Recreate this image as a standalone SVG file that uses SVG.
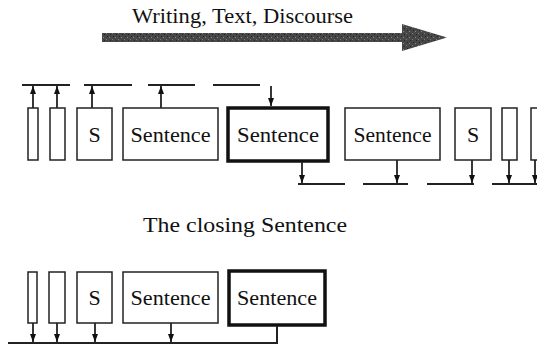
<svg xmlns="http://www.w3.org/2000/svg" width="537" height="348" viewBox="0 0 537 348">
<style>
.box{fill:#fff;stroke:#222;stroke-width:1.5}
.bold{fill:#fff;stroke:#111;stroke-width:3.5}
.ln{stroke:#222;stroke-width:2;fill:none}
.cn{stroke:#222;stroke-width:1.8;fill:none;marker-end:url(#ah)}
.lbl{font-family:"Liberation Serif","Times New Roman",serif;font-size:22px;text-anchor:middle;fill:#111}
.ttl{font-family:"Liberation Serif","Times New Roman",serif;font-size:21px;fill:#111}
</style>
<defs>
<marker id="ah" viewBox="0 0 8 6" refX="8" refY="3" markerWidth="8" markerHeight="6" orient="auto" markerUnits="userSpaceOnUse">
<path d="M0,0 L8,3 L0,6 z" fill="#111"/>
</marker>
<pattern id="tex" width="6" height="6" patternUnits="userSpaceOnUse">
<rect width="6" height="6" fill="#474747"/>
<rect x="1" y="1" width="1" height="1" fill="#8a8a8a"/>
<rect x="4" y="3" width="1" height="1" fill="#7a7a7a"/>
<rect x="2" y="4" width="1" height="1" fill="#222"/>
<rect x="5" y="0" width="1" height="1" fill="#222"/>
</pattern>
</defs>

<g id="title">
<text class="ttl" x="132" y="23" textLength="221" lengthAdjust="spacingAndGlyphs">Writing, Text, Discourse</text>
<polygon points="102,33 402,33 402,24 447,37.5 402,51 402,42 102,42" fill="url(#tex)"/>
</g>

<g id="top-row">
<g id="t1"><rect class="box" x="28" y="108" width="10" height="52"/></g>
<g id="t2"><rect class="box" x="50" y="108" width="15" height="52"/></g>
<g id="t3"><rect class="box" x="77" y="108" width="35" height="52"/><text class="lbl" x="94.5" y="142">S</text></g>
<g id="t4"><rect class="box" x="123" y="108" width="95" height="52"/><text class="lbl" x="170.5" y="142" textLength="80" lengthAdjust="spacingAndGlyphs">Sentence</text></g>
<g id="t5"><rect class="bold" x="228" y="108" width="100" height="53"/><text class="lbl" x="278" y="142" textLength="82" lengthAdjust="spacingAndGlyphs">Sentence</text></g>
<g id="t6"><rect class="box" x="345" y="108" width="95" height="52"/><text class="lbl" x="392.5" y="142" textLength="78" lengthAdjust="spacingAndGlyphs">Sentence</text></g>
<g id="t7"><rect class="box" x="455" y="108" width="36" height="52"/><text class="lbl" x="473" y="142">S</text></g>
<g id="t8"><rect class="box" x="502" y="108" width="15" height="52"/></g>
<g id="t9"><rect class="box" x="531" y="108" width="15" height="52"/></g>
</g>

<g id="closing-label">
<text class="ttl" x="143" y="232" textLength="204" lengthAdjust="spacingAndGlyphs">The closing Sentence</text>
</g>

<g id="bottom-row">
<g id="b1"><rect class="box" x="28" y="272" width="9" height="51"/></g>
<g id="b2"><rect class="box" x="49" y="272" width="16" height="51"/></g>
<g id="b3"><rect class="box" x="77" y="272" width="35" height="51"/><text class="lbl" x="94.5" y="305">S</text></g>
<g id="b4"><rect class="box" x="123" y="272" width="95" height="51"/><text class="lbl" x="170.5" y="305" textLength="80" lengthAdjust="spacingAndGlyphs">Sentence</text></g>
<g id="b5"><rect class="bold" x="229" y="271" width="96" height="54"/><text class="lbl" x="277" y="305" textLength="80" lengthAdjust="spacingAndGlyphs">Sentence</text></g>
</g>

<g id="connectors">
<line class="ln" x1="22" y1="85" x2="70" y2="85"/>
<line class="ln" x1="84" y1="85" x2="132" y2="85"/>
<line class="ln" x1="148" y1="85" x2="195" y2="85"/>
<line class="ln" x1="213" y1="85" x2="260" y2="85"/>
<line class="cn" x1="33" y1="108" x2="33" y2="86"/>
<line class="cn" x1="57" y1="108" x2="57" y2="86"/>
<line class="cn" x1="92" y1="108" x2="92" y2="86"/>
<line class="cn" x1="161" y1="108" x2="161" y2="86"/>
<line class="cn" x1="271" y1="86" x2="271" y2="106"/>

<line class="ln" x1="298" y1="184" x2="345" y2="184"/>
<line class="ln" x1="363" y1="184" x2="408" y2="184"/>
<line class="ln" x1="427" y1="184" x2="474" y2="184"/>
<line class="ln" x1="492" y1="184" x2="537" y2="184"/>
<line class="cn" x1="302" y1="162" x2="302" y2="183"/>
<line class="cn" x1="397" y1="160" x2="397" y2="183"/>
<line class="cn" x1="472" y1="160" x2="472" y2="183"/>
<line class="cn" x1="509" y1="160" x2="509" y2="183"/>
<line class="cn" x1="535" y1="160" x2="535" y2="183"/>

<polyline class="ln" points="8,343 277,343 277,326"/>
<line class="cn" x1="33" y1="323" x2="33" y2="342"/>
<line class="cn" x1="57" y1="323" x2="57" y2="342"/>
<line class="cn" x1="95" y1="323" x2="95" y2="342"/>
<line class="cn" x1="171" y1="323" x2="171" y2="342"/>
</g>
</svg>
